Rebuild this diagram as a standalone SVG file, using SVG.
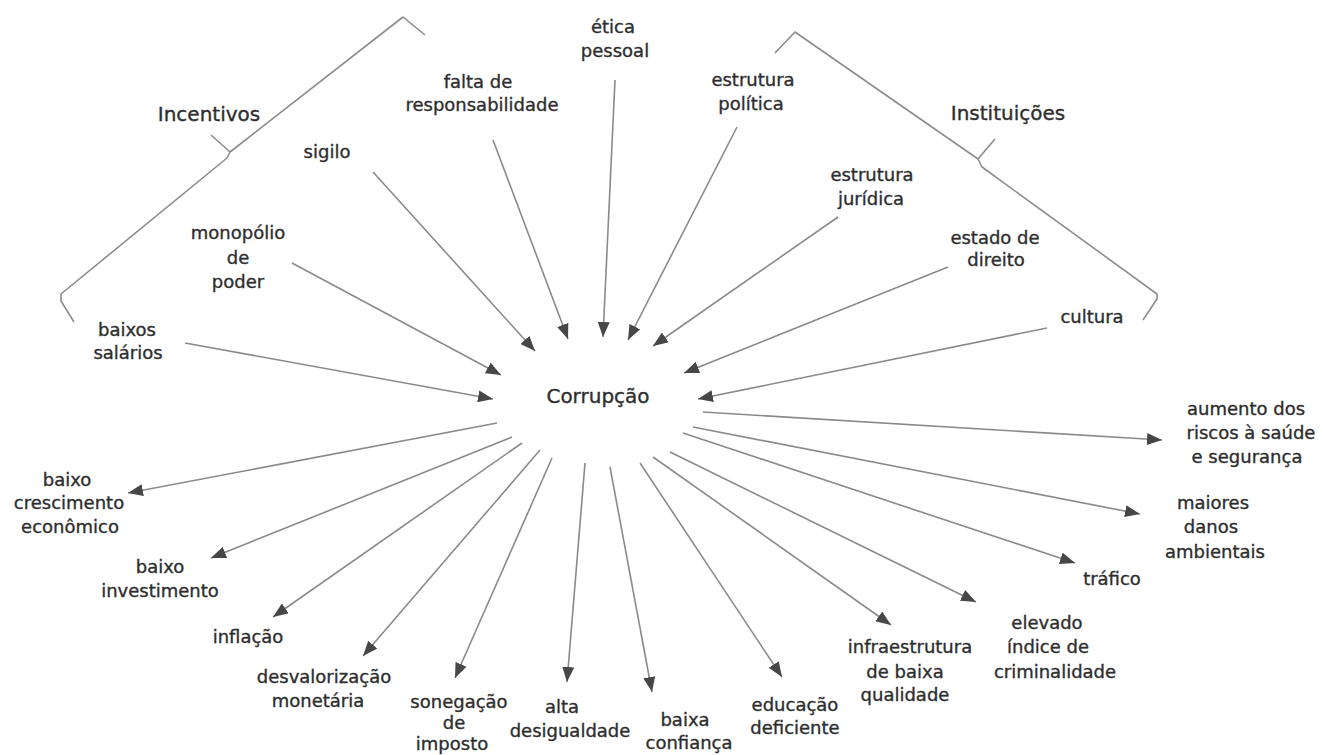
<svg xmlns="http://www.w3.org/2000/svg" width="1323" height="755" viewBox="0 0 1323 755">
<style>
.lbl{font-family:"DejaVu Sans","Liberation Sans",sans-serif;font-size:18px;fill:#2e2e2e;stroke:#2e2e2e;stroke-width:0.35;text-anchor:middle}
.big{font-family:"DejaVu Sans","Liberation Sans",sans-serif;font-size:20px;fill:#2e2e2e;stroke:#2e2e2e;stroke-width:0.35;text-anchor:middle}
.con{stroke:#8a8a8a;stroke-width:1.6;fill:none;marker-end:url(#ah)}
.brace{stroke:#8c8c8c;stroke-width:1.6;fill:none;stroke-linejoin:round}
</style>
<defs>
<marker id="ah" viewBox="0 0 15 12" refX="15" refY="6" markerWidth="15" markerHeight="12" orient="auto" markerUnits="userSpaceOnUse">
<path d="M0,0 L15,6 L0,12 z" fill="#474747"/>
</marker>
</defs>
<rect width="1323" height="755" fill="#fff"/>

<g id="brace-incentivos">
<path class="brace" d="M425,35 L403,17 L230,152 L227,158 L61,294 L61,301 L74,322 M230,152 L211,135"/>
<text class="big" x="209" y="121">Incentivos</text>
</g>
<g id="brace-instituicoes">
<path class="brace" d="M775,53 L795,32 L978,159 L982,167 L1157,294 L1157,299 L1143,320 M978,159 L995,139"/>
<text class="big" x="1008" y="120">Instituições</text>
</g>

<g id="connectors">
<line class="con" x1="185" y1="343" x2="493" y2="399"/>
<line class="con" x1="292" y1="263" x2="501" y2="375"/>
<line class="con" x1="373" y1="172" x2="535" y2="351"/>
<line class="con" x1="493" y1="140" x2="568" y2="339"/>
<line class="con" x1="615" y1="80" x2="603" y2="337"/>
<line class="con" x1="737" y1="127" x2="628" y2="340"/>
<line class="con" x1="838" y1="217" x2="653" y2="346"/>
<line class="con" x1="948" y1="267" x2="684" y2="373"/>
<line class="con" x1="1047" y1="328" x2="698" y2="399"/>

<line class="con" x1="497" y1="423" x2="128" y2="493"/>
<line class="con" x1="512" y1="437" x2="211" y2="558"/>
<line class="con" x1="522" y1="443" x2="273" y2="617"/>
<line class="con" x1="540" y1="450" x2="363" y2="656"/>
<line class="con" x1="552" y1="458" x2="455" y2="678"/>
<line class="con" x1="585" y1="463" x2="567" y2="682"/>
<line class="con" x1="610" y1="467" x2="652" y2="692"/>
<line class="con" x1="640" y1="463" x2="782" y2="677"/>
<line class="con" x1="653" y1="457" x2="891" y2="625"/>
<line class="con" x1="670" y1="452" x2="976" y2="602"/>
<line class="con" x1="683" y1="433" x2="1075" y2="563"/>
<line class="con" x1="693" y1="427" x2="1140" y2="514"/>
<line class="con" x1="703" y1="412" x2="1162" y2="440"/>
</g>

<g id="corrupcao"><text class="big" x="598" y="403">Corrupção</text></g>

<g id="baixos-salarios"><text class="lbl" x="127" y="336">baixos</text><text class="lbl" x="128" y="359">salários</text></g>
<g id="monopolio"><text class="lbl" x="238" y="239">monopólio</text><text class="lbl" x="238" y="264">de</text><text class="lbl" x="238" y="288">poder</text></g>
<g id="sigilo"><text class="lbl" x="327" y="158">sigilo</text></g>
<g id="falta-responsabilidade"><text class="lbl" x="478" y="88">falta de</text><text class="lbl" x="482" y="111">responsabilidade</text></g>
<g id="etica-pessoal"><text class="lbl" x="613" y="33">ética</text><text class="lbl" x="615" y="57">pessoal</text></g>
<g id="estrutura-politica"><text class="lbl" x="753" y="86">estrutura</text><text class="lbl" x="751" y="110">política</text></g>
<g id="estrutura-juridica"><text class="lbl" x="872" y="181">estrutura</text><text class="lbl" x="871" y="205">jurídica</text></g>
<g id="estado-direito"><text class="lbl" x="995" y="244">estado de</text><text class="lbl" x="996" y="266">direito</text></g>
<g id="cultura"><text class="lbl" x="1092" y="323">cultura</text></g>

<g id="baixo-crescimento"><text class="lbl" x="67" y="486">baixo</text><text class="lbl" x="69" y="509">crescimento</text><text class="lbl" x="70" y="533">econômico</text></g>
<g id="baixo-investimento"><text class="lbl" x="160" y="573">baixo</text><text class="lbl" x="160" y="597">investimento</text></g>
<g id="inflacao"><text class="lbl" x="248" y="643">inflação</text></g>
<g id="desvalorizacao"><text class="lbl" x="324" y="683">desvalorização</text><text class="lbl" x="318" y="707">monetária</text></g>
<g id="sonegacao"><text class="lbl" x="459" y="708">sonegação</text><text class="lbl" x="454" y="729">de</text><text class="lbl" x="452" y="750">imposto</text></g>
<g id="alta-desigualdade"><text class="lbl" x="562" y="713">alta</text><text class="lbl" x="570" y="737">desigualdade</text></g>
<g id="baixa-confianca"><text class="lbl" x="685" y="726">baixa</text><text class="lbl" x="689" y="749">confiança</text></g>
<g id="educacao"><text class="lbl" x="795" y="711">educação</text><text class="lbl" x="795" y="734">deficiente</text></g>
<g id="infraestrutura"><text class="lbl" x="910" y="653">infraestrutura</text><text class="lbl" x="905" y="678">de baixa</text><text class="lbl" x="905" y="701">qualidade</text></g>
<g id="criminalidade"><text class="lbl" x="1047" y="629">elevado</text><text class="lbl" x="1048" y="653">índice de</text><text class="lbl" x="1055" y="678">criminalidade</text></g>
<g id="trafico"><text class="lbl" x="1112" y="585">tráfico</text></g>
<g id="danos-ambientais"><text class="lbl" x="1213" y="509">maiores</text><text class="lbl" x="1211" y="533">danos</text><text class="lbl" x="1215" y="558">ambientais</text></g>
<g id="riscos-saude"><text class="lbl" x="1246" y="415">aumento dos</text><text class="lbl" x="1251" y="439">riscos à saúde</text><text class="lbl" x="1247" y="463">e segurança</text></g>
</svg>
